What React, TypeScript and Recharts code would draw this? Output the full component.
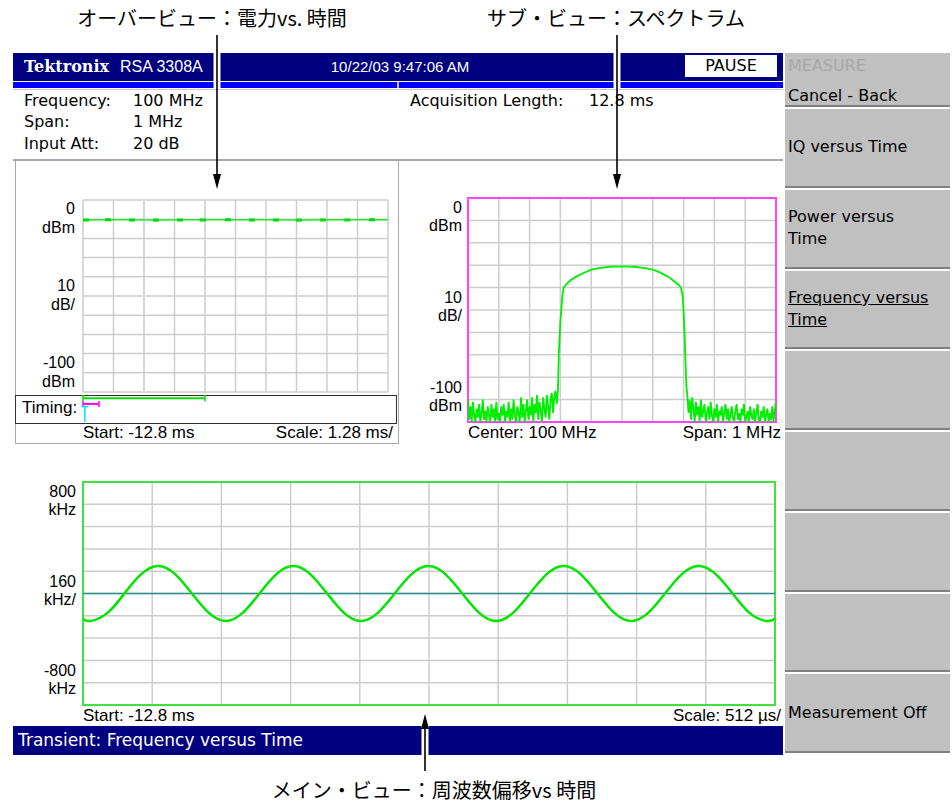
import React from 'react';
import {
  LineChart,
  Line,
  XAxis,
  YAxis,
  CartesianGrid,
  ReferenceLine,
  ReferenceArea,
} from 'recharts';

const W = 952;
const H = 805;
const UI = '"DejaVu Sans", Verdana, sans-serif';
const PLOT = '"Liberation Sans", Arial, sans-serif';
const JP = '"Noto Sans CJK JP", sans-serif';

// overview: power vs time (ms, dBm)
const powerTimes = [-12.8, -12.67, -11.75, -10.74, -9.74, -8.73, -7.77, -6.72, -5.71, -4.7, -3.74, -2.73, -1.71, -0.67, 0];
const powerLevels = [-10.4, -10.4, -10.3, -10.4, -10.5, -10.4, -10.4, -10.3, -10.4, -10.4, -10.5, -10.4, -10.4, -10.3, -10.4];
const overviewTimeTicks = [-12.8, -11.52, -10.24, -8.96, -7.68, -6.4, -5.12, -3.84, -2.56, -1.28, 0];

// sub view: spectrum (kHz offset from 100 MHz, dBm)
const noiseStep = 4;
const noiseLeftStart = -500;
const noiseLeft = [
  -90, -99, -93, -100, -91, -97, -100, -94, -98, -92, -100, -96, -90, -99, -95, -100, -93, -97, -100, -92,
  -98, -94, -100, -91, -99, -96, -100, -93, -97, -92, -100, -95, -98, -91, -100, -94, -99, -90, -97, -100,
  -93, -96, -100, -89, -98, -92, -100, -95, -90, -99, -93, -97, -89, -100, -92, -96, -88, -99, -91, -95,
  -100, -89, -94, -98, -88, -93, -99, -90, -87, -96, -89, -86, -92,
];
const bandFreqs = [-208, -205, -200, -196, -193, -189, -180, -165, -147, -125, -99, -75, -40, 0, 40, 75, 100, 125, 156, 175, 185, 191, 196, 199, 203, 206, 209];
const bandLevels = [-86, -69, -55, -48, -43, -40, -38.3, -36.5, -35, -33.5, -32, -31.3, -30.7, -30.5, -30.7, -31.3, -32, -33.3, -35.7, -37.8, -38.8, -40, -43, -48, -60, -72, -84];
const noiseRightStart = 212;
const noiseRight = [
  -88, -96, -90, -99, -89, -94, -100, -91, -97, -93, -100, -90, -98, -95, -92, -100, -96, -93, -99, -91,
  -97, -100, -94, -98, -92, -100, -95, -97, -93, -100, -96, -92, -99, -94, -100, -97, -93, -98, -100, -95,
  -92, -99, -96, -100, -94, -97, -92, -100, -98, -95, -100, -93, -97, -99, -94, -100, -96, -92, -99, -100,
  -95, -98, -93, -100, -97, -94, -100, -96, -99, -93, -100, -95, -91,
];
const spanTicks = [-500, -400, -300, -200, -100, 0, 100, 200, 300, 400, 500];
const dbTicks = [-100, -90, -80, -70, -60, -50, -40, -30, -20, -10, 0];
const dbLabelValues = [-10, -50, -90];
const dbLabels = [['0', 'dBm'], ['10', 'dB/'], ['-100', 'dBm']];

// main view: frequency deviation vs time (ms, kHz)
const devTimes = [
  -12.8, -12.744, -12.619, -12.494, -12.369, -12.244, -12.119, -11.994, -11.869, -11.744, -11.619, -11.494,
  -11.369, -11.244, -11.119, -10.994, -10.869, -10.744, -10.619, -10.494, -10.369, -10.244, -10.119, -9.994,
  -9.869, -9.744, -9.619, -9.494, -9.369, -9.244, -9.119, -8.994, -8.869, -8.744, -8.619, -8.494, -8.369,
  -8.244, -8.119, -7.994, -7.869, -7.744, -7.68,
];
const devValues = [
  -182, -197, -139, 0, 139, 197, 139, 0, -139, -197, -139, 0, 139, 197, 139, 0, -139, -197, -139, 0, 139, 197,
  139, 0, -139, -197, -139, 0, 139, 197, 139, 0, -139, -197, -139, 0, 139, 197, 139, 0, -139, -197, -181,
];
const mainTimeTicks = [-12.8, -12.288, -11.776, -11.264, -10.752, -10.24, -9.728, -9.216, -8.704, -8.192, -7.68];
const khzTicks = [-800, -640, -480, -320, -160, 0, 160, 320, 480, 640, 800];
const khzLabelValues = [640, 0, -640];
const khzLabels = [['800', 'kHz'], ['160', 'kHz/'], ['-800', 'kHz']];

const powerData = powerTimes.map((t, i) => ({ t, p: powerLevels[i] }));
const specData = [
  ...noiseLeft.map((v, i) => ({ f: noiseLeftStart + i * noiseStep, d: v })),
  ...bandFreqs.map((f, i) => ({ f, d: bandLevels[i] })),
  ...noiseRight.map((v, i) => ({ f: noiseRightStart + i * noiseStep, d: v })),
];
const devData = devTimes.map((t, i) => ({ t, k: devValues[i] }));

const menuLabels = ['IQ versus Time', 'Power versus\nTime', 'Frequency versus\nTime', '', '', '', '', 'Measurement Off'];

type TxtProps = {
  x: number;
  y: number;
  children?: React.ReactNode;
  size?: number;
  color?: string;
  font?: string;
  anchor?: 'start' | 'end' | 'middle';
  weight?: number;
};

function Txt({ x, y, children, size = 16, color = '#000', font = UI, anchor = 'start', weight = 400 }: TxtProps) {
  const style: React.CSSProperties = {
    position: 'absolute',
    top: y - size * 0.6,
    fontSize: size,
    lineHeight: `${size * 1.2}px`,
    fontFamily: font,
    color,
    fontWeight: weight,
    whiteSpace: 'nowrap',
  };
  if (anchor === 'start') style.left = x;
  else if (anchor === 'end') style.right = W - x;
  else {
    style.left = x;
    style.transform = 'translateX(-50%)';
  }
  return <div style={style}>{children}</div>;
}

function Box({ x, y, w, h, bg, border }: { x: number; y: number; w: number; h: number; bg?: string; border?: string }) {
  return (
    <div
      style={{
        position: 'absolute',
        left: x,
        top: y,
        width: w,
        height: h,
        background: bg || 'transparent',
        border: border || 'none',
        boxSizing: 'border-box',
      }}
    />
  );
}

function makeTick(values: number[], labels: string[][], d1: number, d2: number) {
  return (props: any) => {
    const { x, y, payload } = props;
    const idx = values.indexOf(payload.value);
    if (idx < 0) return <g />;
    return (
      <g>
        <text x={x} y={y + d1} textAnchor="end" fontSize={16} fontFamily={PLOT} fill="#000">
          {labels[idx][0]}
        </text>
        <text x={x} y={y + d2} textAnchor="end" fontSize={16} fontFamily={PLOT} fill="#000">
          {labels[idx][1]}
        </text>
      </g>
    );
  };
}

const noTick = () => <g />;

const dashDot = (props: any) => {
  const { cx, cy, index } = props;
  if (index === 0 || index === powerTimes.length - 1) return <g key={`pd${index}`} />;
  return <rect key={`pd${index}`} x={cx - 3} y={cy - 1.5} width={6} height={3} fill="#00dd00" />;
};

function Arrow({ x, y1, y2, gapFrom, gapTo }: { x: number; y1: number; y2: number; gapFrom: number; gapTo: number }) {
  const down = y2 > y1;
  const base = down ? y2 - 15 : y2 + 15;
  return (
    <g>
      <line x1={x} y1={gapFrom} x2={x} y2={gapTo} stroke="#fff" strokeWidth={7} />
      <line x1={x} y1={y1} x2={x} y2={base} stroke="#000" strokeWidth={1.6} />
      <polygon points={`${x - 4},${base} ${x + 4},${base} ${x},${y2}`} fill="#000" />
    </g>
  );
}

export default function App() {
  return (
    <div style={{ position: 'absolute', left: 0, top: 0, width: W, height: H, background: '#fff', overflow: 'hidden' }}>
      {/* captions */}
      <Txt x={212} y={18} size={20} font={JP} anchor="middle">オーバービュー：電力vs. 時間</Txt>
      <Txt x={616} y={18} size={20} font={JP} anchor="middle">サブ・ビュー：スペクトラム</Txt>
      <Txt x={434} y={790} size={20} font={JP} anchor="middle">メイン・ビュー：周波数偏移vs 時間</Txt>

      {/* status bar */}
      <Box x={13} y={53} w={770} h={28} bg="#000080" />
      <Box x={13} y={82} w={770} h={6} bg="#0000ff" />
      <Box x={397} y={82} w={2} h={6} bg="#c0c0c0" />
      <Box x={13} y={89} w={770} h={1} bg="#c8c8c8" />
      <Txt x={24} y={67} size={16} color="#fff" font='"DejaVu Serif", serif' weight={700}>Tektronix</Txt>
      <Txt x={120} y={67} size={16} color="#fff" font={PLOT}>RSA 3308A</Txt>
      <Txt x={400} y={67} size={15} color="#fff" font={PLOT} anchor="middle">10/22/03 9:47:06 AM</Txt>
      <Box x={685} y={55} w={92} h={22} bg="#fff" />
      <Txt x={731} y={66} size={16} anchor="middle">PAUSE</Txt>

      {/* setup info */}
      <Txt x={24} y={101}>Frequency:</Txt>
      <Txt x={133} y={101}>100 MHz</Txt>
      <Txt x={24} y={122}>Span:</Txt>
      <Txt x={133} y={122}>1 MHz</Txt>
      <Txt x={24} y={144}>Input Att:</Txt>
      <Txt x={133} y={144}>20 dB</Txt>
      <Txt x={410} y={101}>Acquisition Length:</Txt>
      <Txt x={589} y={101}>12.8 ms</Txt>
      <Box x={13} y={159} w={770} h={2} bg="#a8a8a8" />

      {/* overview panel */}
      <Box x={15} y={159} w={384} h={285} border="1.5px solid #a8a8a8" />
      <Box x={15} y={395} w={382} h={29} border="1.5px solid #303030" />
      <Txt x={22} y={408} size={17} font={PLOT}>Timing:</Txt>
      <div style={{ position: 'absolute', left: 15, top: 180 }}>
        <LineChart width={378} height={250} data={powerData} margin={{ top: 20, right: 5, bottom: 37, left: 0 }}>
          <CartesianGrid stroke="#cccccc" strokeWidth={1.5} />
          <XAxis type="number" dataKey="t" domain={[-12.8, 0]} ticks={overviewTimeTicks} interval={0} allowDataOverflow tick={noTick} axisLine={false} tickLine={false} height={1} />
          <YAxis type="number" domain={[-100, 0]} ticks={dbTicks} interval={0} allowDataOverflow width={68} axisLine={false} tickLine={false} tickSize={0} tickMargin={8} tick={makeTick(dbLabelValues, dbLabels, -5, 14)} />
          <Line type="linear" dataKey="p" stroke="#00ee00" strokeWidth={1.2} dot={dashDot} isAnimationActive={false} />
          <ReferenceLine ifOverflow="visible" segment={[{ x: -12.8, y: -103.2 }, { x: -7.68, y: -103.2 }]} stroke="#00e000" strokeWidth={2} />
          <ReferenceLine ifOverflow="visible" segment={[{ x: -12.8, y: -101.6 }, { x: -12.8, y: -105 }]} stroke="#00e000" strokeWidth={1.5} />
          <ReferenceLine ifOverflow="visible" segment={[{ x: -7.68, y: -101.6 }, { x: -7.68, y: -105 }]} stroke="#00e000" strokeWidth={1.5} />
          <ReferenceLine ifOverflow="visible" segment={[{ x: -12.8, y: -106.2 }, { x: -12.13, y: -106.2 }]} stroke="#ff00ff" strokeWidth={2} />
          <ReferenceLine ifOverflow="visible" segment={[{ x: -12.8, y: -104.7 }, { x: -12.8, y: -107.8 }]} stroke="#ff00ff" strokeWidth={1.5} />
          <ReferenceLine ifOverflow="visible" segment={[{ x: -12.13, y: -104.7 }, { x: -12.13, y: -107.8 }]} stroke="#ff00ff" strokeWidth={1.5} />
          <ReferenceLine ifOverflow="visible" segment={[{ x: -12.87, y: -107.6 }, { x: -12.58, y: -107.6 }]} stroke="#00e0ff" strokeWidth={1.5} />
          <ReferenceLine ifOverflow="visible" segment={[{ x: -12.72, y: -107.6 }, { x: -12.72, y: -115.6 }]} stroke="#00e0ff" strokeWidth={1.5} />
        </LineChart>
      </div>
      <Txt x={83} y={433} size={17} font={PLOT}>Start: -12.8 ms</Txt>
      <Txt x={393} y={433} size={17} font={PLOT} anchor="end">Scale: 1.28 ms/</Txt>

      {/* spectrum */}
      <div style={{ position: 'absolute', left: 400, top: 178 }}>
        <LineChart width={381} height={252} data={specData} margin={{ top: 20, right: 5, bottom: 7, left: 0 }}>
          <CartesianGrid stroke="#cccccc" strokeWidth={1.5} />
          <XAxis type="number" dataKey="f" domain={[-500, 500]} ticks={spanTicks} interval={0} allowDataOverflow tick={noTick} axisLine={false} tickLine={false} height={1} />
          <YAxis type="number" domain={[-100, 0]} ticks={dbTicks} interval={0} allowDataOverflow width={68} axisLine={false} tickLine={false} tickSize={0} tickMargin={6} tick={makeTick(dbLabelValues, dbLabels, -7, 11)} />
          <ReferenceArea x1={-500} x2={500} y1={-100} y2={0} fill="none" fillOpacity={0} stroke="#ff44ff" strokeWidth={2} />
          <Line type="linear" dataKey="d" stroke="#00ee00" strokeWidth={1.8} dot={false} isAnimationActive={false} />
        </LineChart>
      </div>
      <Txt x={468} y={433} size={17} font={PLOT}>Center: 100 MHz</Txt>
      <Txt x={781} y={433} size={17} font={PLOT} anchor="end">Span: 1 MHz</Txt>

      {/* main view */}
      <div style={{ position: 'absolute', left: 15, top: 462 }}>
        <LineChart width={765} height={251} data={devData} margin={{ top: 20, right: 5, bottom: 7, left: 0 }}>
          <CartesianGrid stroke="#cccccc" strokeWidth={1.5} />
          <XAxis type="number" dataKey="t" domain={[-12.8, -7.68]} ticks={mainTimeTicks} interval={0} allowDataOverflow tick={noTick} axisLine={false} tickLine={false} height={1} />
          <YAxis type="number" domain={[-800, 800]} ticks={khzTicks} interval={0} allowDataOverflow width={68} axisLine={false} tickLine={false} tickSize={0} tickMargin={7} tick={makeTick(khzLabelValues, khzLabels, -7, 11)} />
          <ReferenceArea x1={-12.8} x2={-7.68} y1={-800} y2={800} fill="none" fillOpacity={0} stroke="#44dd44" strokeWidth={2} />
          <ReferenceLine y={0} stroke="#2e8b8b" strokeWidth={1.5} />
          <Line type="natural" dataKey="k" stroke="#00e600" strokeWidth={2.5} dot={false} isAnimationActive={false} />
        </LineChart>
      </div>
      <Txt x={83} y={716} size={17} font={PLOT}>Start: -12.8 ms</Txt>
      <Txt x={781} y={716} size={17} font={PLOT} anchor="end">Scale: 512 µs/</Txt>
      <Box x={13} y={726} w={770} h={29} bg="#000080" />
      <Txt x={18} y={740} size={17} color="#fff">Transient: Frequency versus Time</Txt>

      {/* soft key menu */}
      <div
        style={{
          position: 'absolute',
          left: 785,
          top: 53,
          width: 165,
          height: 54,
          background: '#c0c0c0',
          borderBottom: '2px solid #808080',
          boxSizing: 'border-box',
        }}
      />
      <Txt x={788} y={66} color="#a8a8a8">MEASURE</Txt>
      <Txt x={788} y={96}>Cancel - Back</Txt>
      {menuLabels.map((label, i) => {
        const top = 107 + i * 80.75;
        return (
          <div
            key={i}
            style={{
              position: 'absolute',
              left: 785,
              top,
              width: 165,
              height: 80.75,
              background: '#c0c0c0',
              borderTop: '2px solid #ffffff',
              borderBottom: '2px solid #808080',
              boxSizing: 'border-box',
              display: 'flex',
              flexDirection: 'column',
              justifyContent: 'center',
              paddingLeft: 3,
              fontFamily: UI,
              fontSize: 16,
              lineHeight: '22px',
              textDecoration: i === 2 ? 'underline' : 'none',
              whiteSpace: 'nowrap',
            }}
          >
            {label.split('\n').map((ln, j) => (
              <div key={j}>{ln}</div>
            ))}
          </div>
        );
      })}

      {/* callout arrows */}
      <svg width={W} height={H} style={{ position: 'absolute', left: 0, top: 0, pointerEvents: 'none' }}>
        <Arrow x={217} y1={35} y2={189} gapFrom={52} gapTo={89} />
        <Arrow x={617} y1={35} y2={189} gapFrom={52} gapTo={89} />
        <Arrow x={425} y1={771} y2={714} gapFrom={724} gapTo={757} />
      </svg>
    </div>
  );
}
